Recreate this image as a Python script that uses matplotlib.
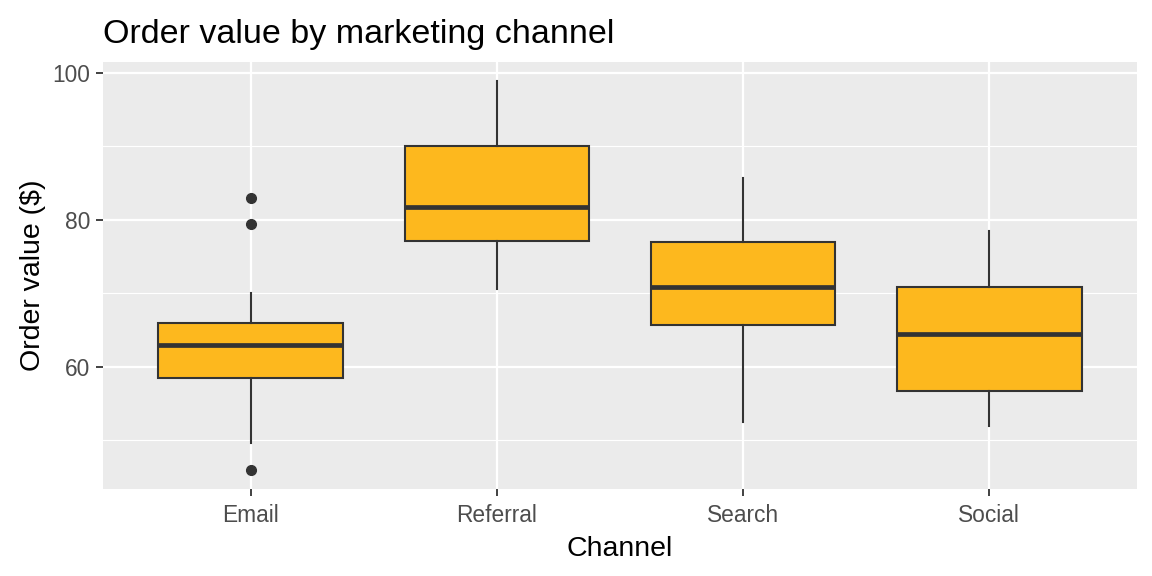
import matplotlib
matplotlib.use("Agg")
import matplotlib.pyplot as plt
from matplotlib.ticker import FixedLocator

plt.rcParams['font.family'] = ['Liberation Sans', 'DejaVu Sans']

channels = ["Email", "Referral", "Search", "Social"]
q1 = [58.5, 77.1, 65.6, 56.7]
medians = [62.9, 81.7, 70.8, 64.4]
q3 = [66.0, 90.0, 76.95, 70.9]
whisker_low = [49.6, 70.5, 52.45, 51.9]
whisker_high = [70.05, 98.8, 85.7, 78.5]
outliers = [[82.9, 79.4, 46.0], [], [], []]

y_major = [60, 80, 100]
y_minor = [50, 70, 90]

fill = '#FDB81E'
dark = '#333333'

fig = plt.figure(figsize=(11.52, 5.76), dpi=100)
ax = fig.add_axes([103/1152, (576-489)/576, 1034/1152, 427/576])
ax.set_facecolor('#EBEBEB')
for s in ax.spines.values():
    s.set_visible(False)

positions = list(range(1, len(channels) + 1))
stats = []
for i, name in enumerate(channels):
    stats.append(dict(label=name, q1=q1[i], med=medians[i], q3=q3[i],
                      whislo=whisker_low[i], whishi=whisker_high[i],
                      fliers=outliers[i]))

ax.bxp(stats, positions=positions, widths=0.75, patch_artist=True,
       showcaps=False, zorder=3,
       boxprops=dict(facecolor=fill, edgecolor=dark, linewidth=1.5),
       medianprops=dict(color=dark, linewidth=3.4, solid_capstyle='butt'),
       whiskerprops=dict(color=dark, linewidth=1.5),
       flierprops=dict(marker='o', markerfacecolor=dark, markeredgecolor=dark,
                       markersize=7, linestyle='none'))

allv = whisker_low + whisker_high + [v for o in outliers for v in o]
lo, hi = min(allv), max(allv)
pad = (hi - lo) * 0.05
ax.set_ylim(lo - pad, hi + pad)
ax.set_xlim(0.4, len(channels) + 0.6)

ax.yaxis.set_major_locator(FixedLocator(y_major))
ax.yaxis.set_minor_locator(FixedLocator(y_minor))
ax.set_xticks(positions)
ax.set_xticklabels(channels)

ax.grid(which='major', axis='both', color='white', linewidth=1.6, zorder=0)
ax.grid(which='minor', axis='y', color='white', linewidth=0.8, zorder=0)
ax.set_axisbelow(True)

ax.tick_params(axis='both', which='major', length=5, width=1.3, color=dark,
               labelsize=16.4, labelcolor='#4D4D4D', pad=4)
ax.tick_params(axis='x', which='major', pad=6)
ax.tick_params(axis='y', which='minor', length=0)

ax.set_xlabel("Channel", fontsize=20.5, color='black', labelpad=6)
ax.set_ylabel("Order value ($)", fontsize=20.5, color='black', labelpad=5)
ax.set_title("Order value by marketing channel", loc='left', fontsize=24.5,
             color='black', pad=14)

fig.savefig("out.png", dpi=100)
